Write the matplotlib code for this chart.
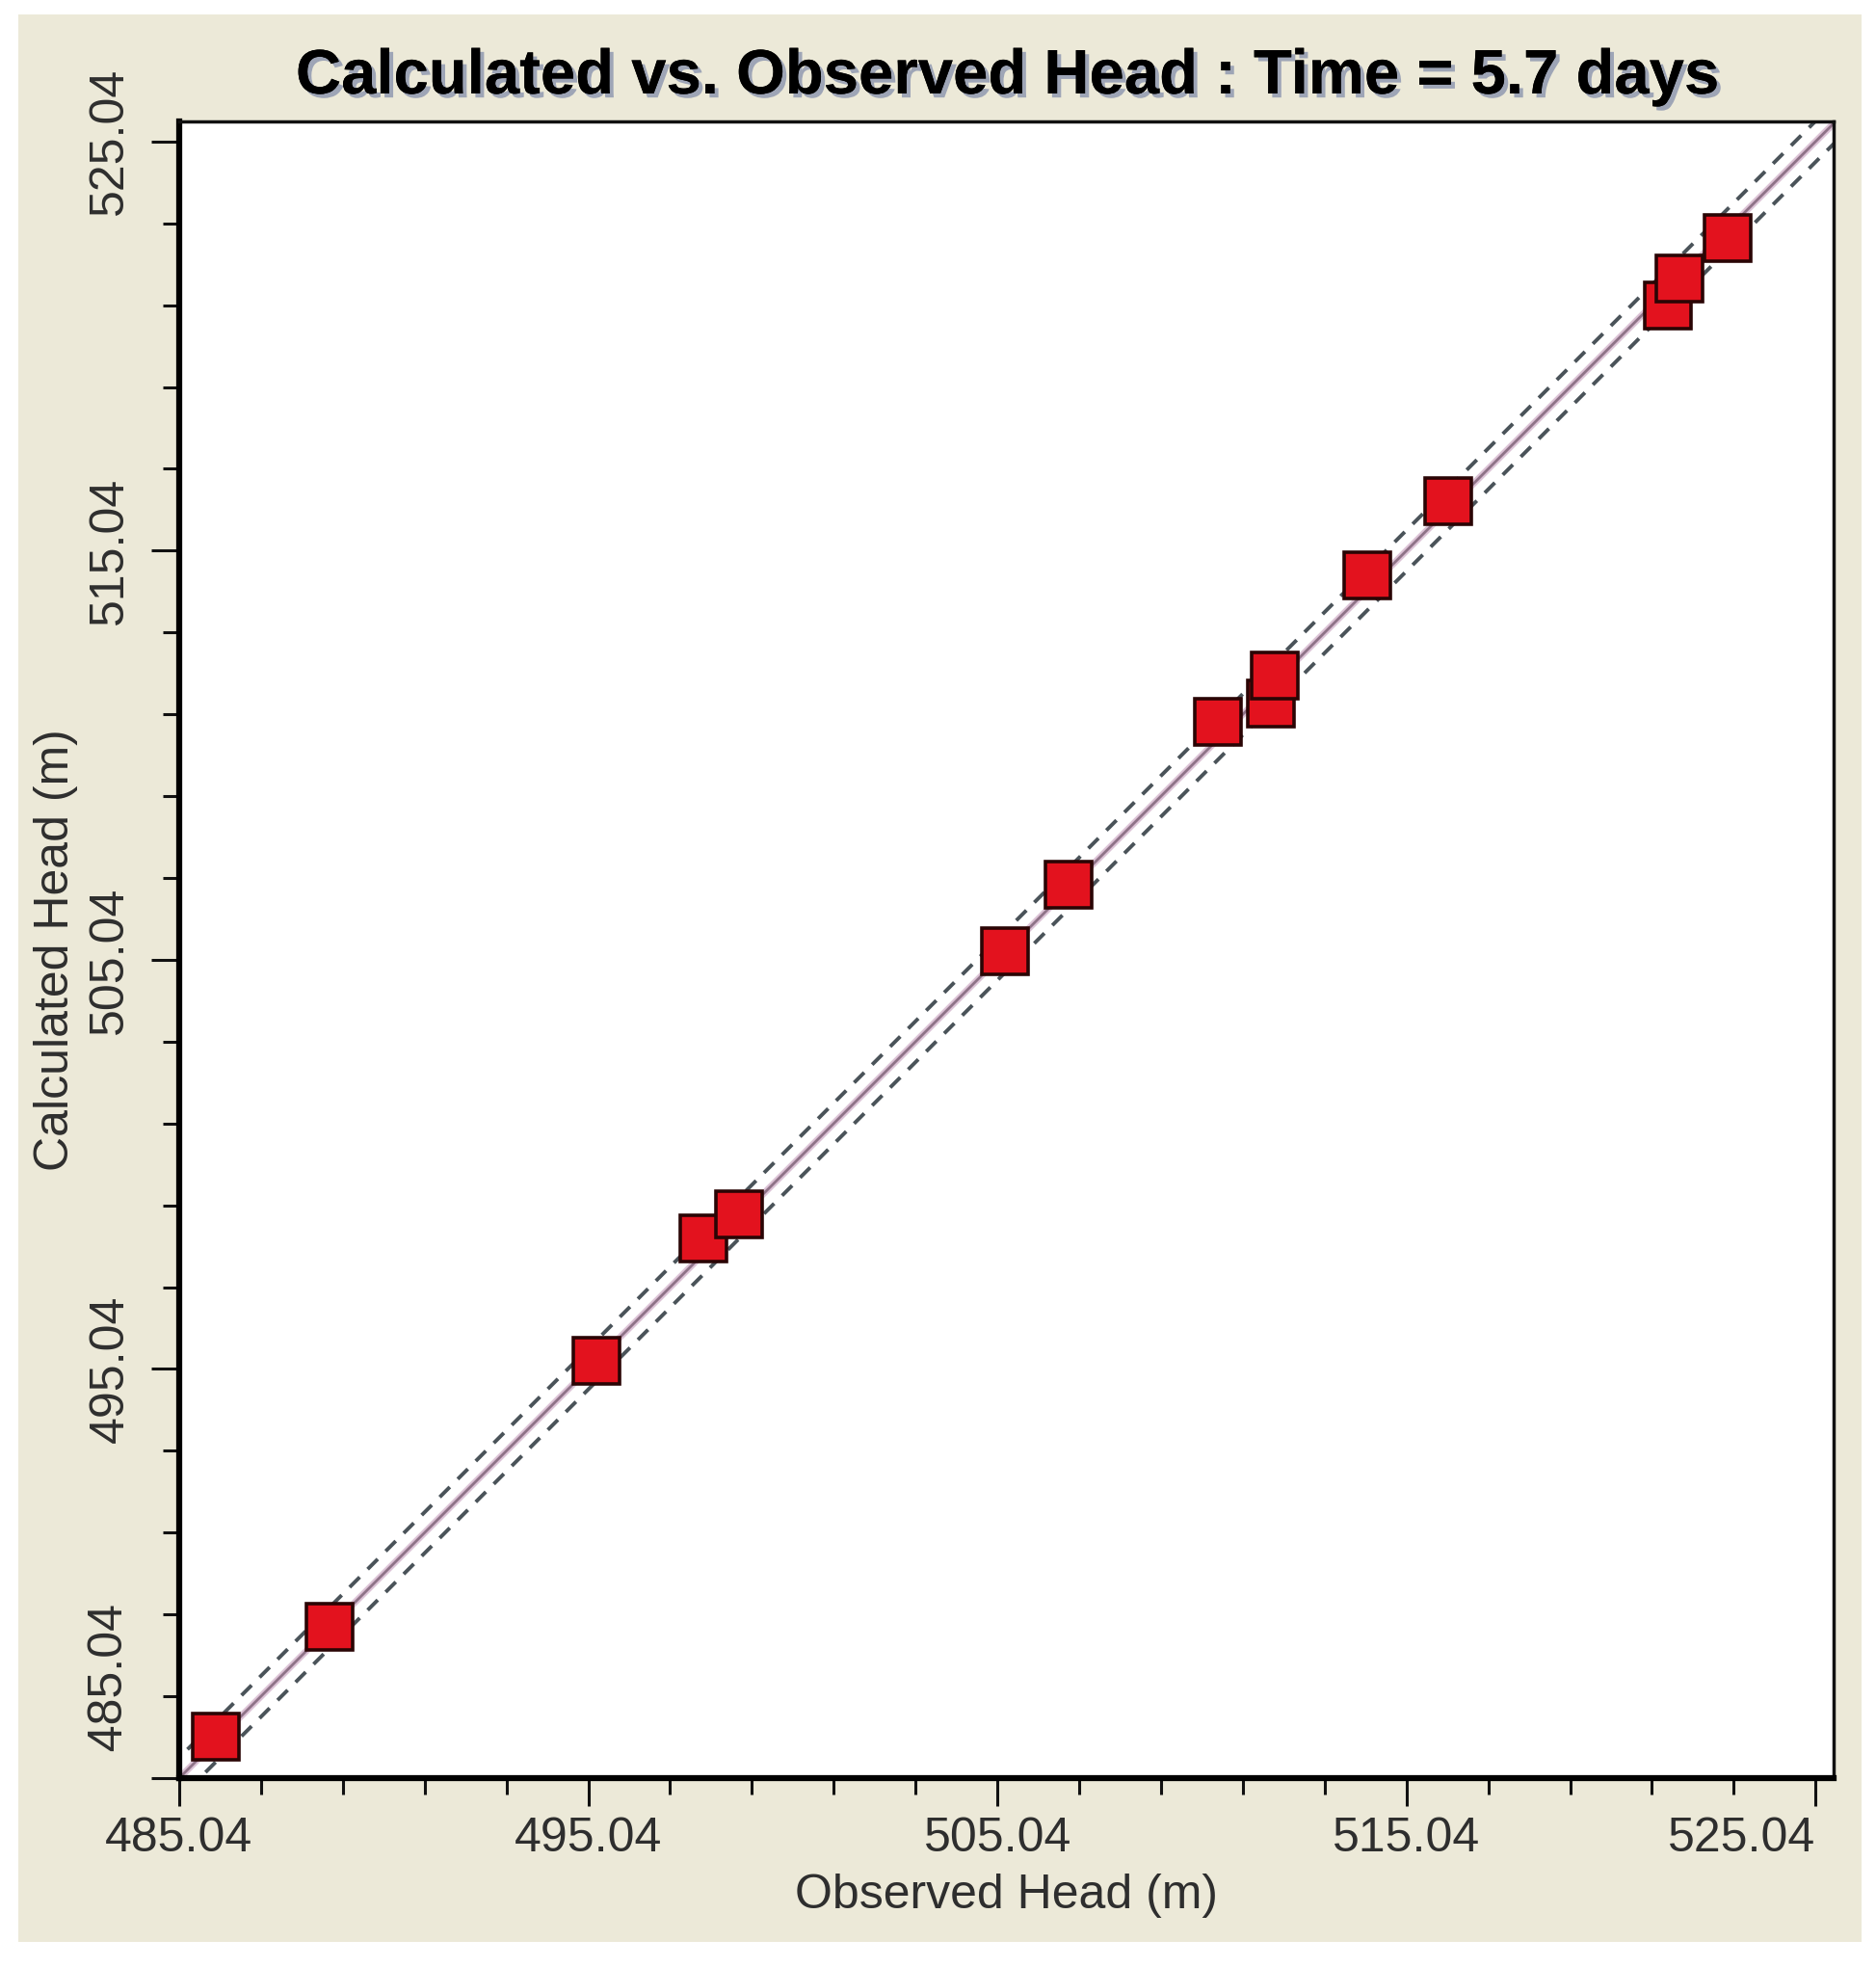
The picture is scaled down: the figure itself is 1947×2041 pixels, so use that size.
import matplotlib
matplotlib.use("Agg")
import matplotlib.pyplot as plt
import matplotlib.patheffects as pe
from matplotlib.patches import Rectangle
import numpy as np

# ---- data ----
observed = [485.93, 488.72, 495.24, 497.86, 498.73, 505.22, 506.78, 510.44,
            511.73, 511.82, 514.07, 516.07, 521.42, 521.72, 522.90]
calculated = [486.05, 488.74, 495.25, 498.22, 498.83, 505.25, 506.87, 510.85,
              511.31, 511.98, 514.43, 516.26, 521.03, 521.68, 522.69]
major_ticks = [485.04, 495.04, 505.04, 515.04, 525.04]
tick_labels = ["485.04", "495.04", "505.04", "515.04", "525.04"]
band = 0.5
title = "Calculated vs. Observed Head : Time = 5.7 days"
xlabel = "Observed Head (m)"
ylabel = "Calculated Head (m)"

plt.rcParams['font.family'] = ['Liberation Sans', 'DejaVu Sans']

W, H = 1947, 2041
fig = plt.figure(figsize=(W / 100, H / 100), dpi=100)
fig.patch.set_facecolor('white')

# beige panel
bg = fig.add_axes([0, 0, 1, 1], zorder=-5)
bg.set_xlim(0, W)
bg.set_ylim(H, 0)
bg.axis('off')
bg.add_patch(Rectangle((19, 15), 1932 - 19, 2015 - 15, facecolor='#ECE9D8',
                       edgecolor='none'))

ax_l, ax_r, ax_t, ax_b = 186, 1903, 126, 1845
ax = fig.add_axes([ax_l / W, 1 - ax_b / H, (ax_r - ax_l) / W, (ax_b - ax_t) / H], zorder=1)
ax.set_facecolor('white')

xmin, xmax = 485.04, 525.48
ymin, ymax = 485.04, 525.53
ax.set_xlim(xmin, xmax)
ax.set_ylim(ymin, ymax)

# 1:1 line and band
lx = np.array([xmin - 2, xmax + 2])
ax.plot(lx, lx, color='#dcc3d6', lw=5, solid_capstyle='butt', zorder=2)
ax.plot(lx, lx, color='#8f7388', lw=2.0, zorder=2.1)
ax.plot(lx, lx + band, color='#4a5359', lw=2.8, dashes=(3.8, 3.0), zorder=2.2)
ax.plot(lx, lx - band, color='#4a5359', lw=2.8, dashes=(3.8, 3.0), zorder=2.2)

ax.plot(observed, calculated, linestyle='none', marker='s', markersize=35,
        markerfacecolor='#e3121e', markeredgecolor='#2a0505', markeredgewidth=2.6,
        zorder=5, clip_on=False)

# ticks
minor = np.arange(485.04, 525.5, 2.0)
ax.set_xticks(major_ticks)
ax.set_yticks(major_ticks)
ax.set_xticks(minor, minor=True)
ax.set_yticks(minor, minor=True)
ax.set_xticklabels(tick_labels)
ylabels = list(tick_labels)
ylabels[0] = "  " + ylabels[0]
ax.set_yticklabels(ylabels, rotation=90, va='center')
ax.tick_params(axis='both', which='major', length=21, width=2.2, color='#111111',
               labelsize=36, labelcolor='#2e2e2e', direction='out')
ax.tick_params(axis='both', which='minor', length=12, width=2.2, color='#111111',
               direction='out')
ax.tick_params(axis='x', which='major', pad=8)
ax.tick_params(axis='y', which='major', pad=14)

xt = ax.get_xticklabels()
xt[-1].set_horizontalalignment('right')
yt = ax.get_yticklabels()
yt[0].set_verticalalignment('bottom')

for s in ['left', 'bottom']:
    ax.spines[s].set_linewidth(4.5)
    ax.spines[s].set_color('#000000')
for s in ['top', 'right']:
    ax.spines[s].set_linewidth(2.5)
    ax.spines[s].set_color('#111111')

cx = (ax_l + ax_r) / 2 / W
cy = 1 - (ax_t + ax_b) / 2 / H
fig.text(cx, 1 - 80 / H, title, ha='center', va='center', fontsize=47,
         fontweight='bold', color='black',
         path_effects=[pe.withSimplePatchShadow(offset=(3, -3), shadow_rgbFace='#7d88a8',
                                                alpha=0.7), pe.Normal()])
fig.text(cx, 1 - 1967 / H, xlabel, ha='center', va='center', fontsize=36, color='#2e2e2e')
fig.text(58 / W, cy, ylabel, ha='center', va='center', rotation=90, fontsize=36,
         color='#2e2e2e')

fig.savefig('out.png', dpi=100, facecolor='white')
